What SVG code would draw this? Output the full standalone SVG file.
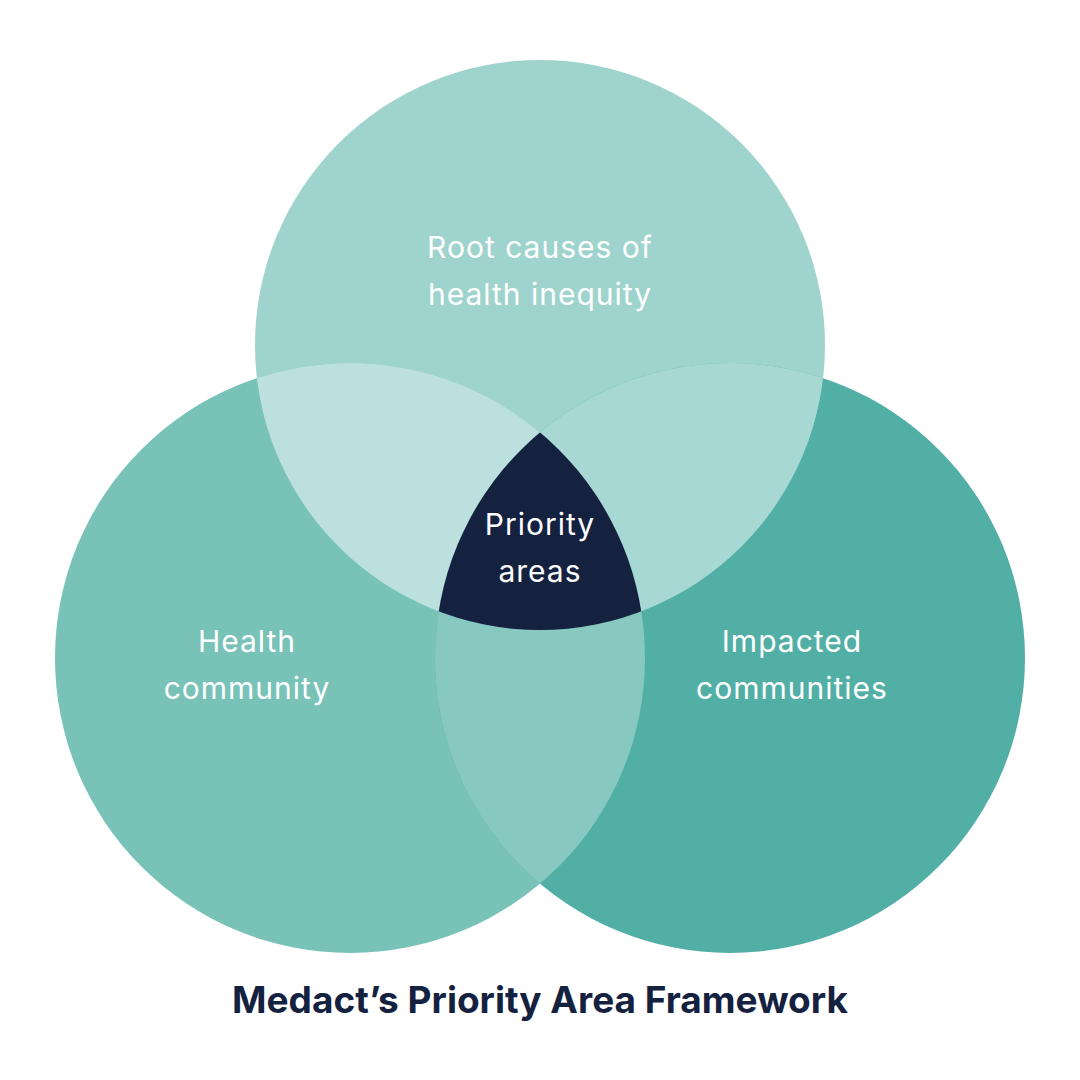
<svg xmlns="http://www.w3.org/2000/svg" width="1080" height="1080" viewBox="0 0 1080 1080">
<style>
.lbl{font-family:Inter,"Liberation Sans",sans-serif;font-size:30px;fill:#fff;text-anchor:middle;letter-spacing:1px}
.title{font-family:Inter,"Liberation Sans",sans-serif;font-size:37px;font-weight:bold;fill:#14213F;text-anchor:middle}
</style>
<defs>
<clipPath id="cT"><circle cx="540" cy="345" r="285"/></clipPath>
<clipPath id="cL"><circle cx="350" cy="658" r="295"/></clipPath>
<clipPath id="cR"><circle cx="730" cy="658" r="295"/></clipPath>
</defs>
<rect width="1080" height="1080" fill="#fff"/>
<g id="top"><circle cx="540" cy="345" r="285" fill="#9ED4CD"/></g>
<g id="left"><circle cx="350" cy="658" r="295" fill="#78C2B8"/></g>
<g id="right"><circle cx="730" cy="658" r="295" fill="#52AFA6"/></g>
<g id="top-left" clip-path="url(#cT)"><circle cx="350" cy="658" r="295" fill="#BBE0DE"/></g>
<g id="top-right" clip-path="url(#cT)"><circle cx="730" cy="658" r="295" fill="#A8D8D3"/></g>
<g id="left-right" clip-path="url(#cL)"><circle cx="730" cy="658" r="295" fill="#87C9C0"/></g>
<g id="center" clip-path="url(#cT)"><g clip-path="url(#cL)"><circle cx="730" cy="658" r="295" fill="#14213F"/></g></g>
<g id="labels">
<text class="lbl" x="540" y="258">Root causes of</text>
<text class="lbl" x="540" y="305">health inequity</text>
<text class="lbl" x="247" y="652">Health</text>
<text class="lbl" x="247" y="699">community</text>
<text class="lbl" x="792" y="652">Impacted</text>
<text class="lbl" x="792" y="699">communities</text>
<text class="lbl" x="540" y="535">Priority</text>
<text class="lbl" x="540" y="582">areas</text>
</g>
<text class="title" x="540" y="1013">Medact’s Priority Area Framework</text>
</svg>
